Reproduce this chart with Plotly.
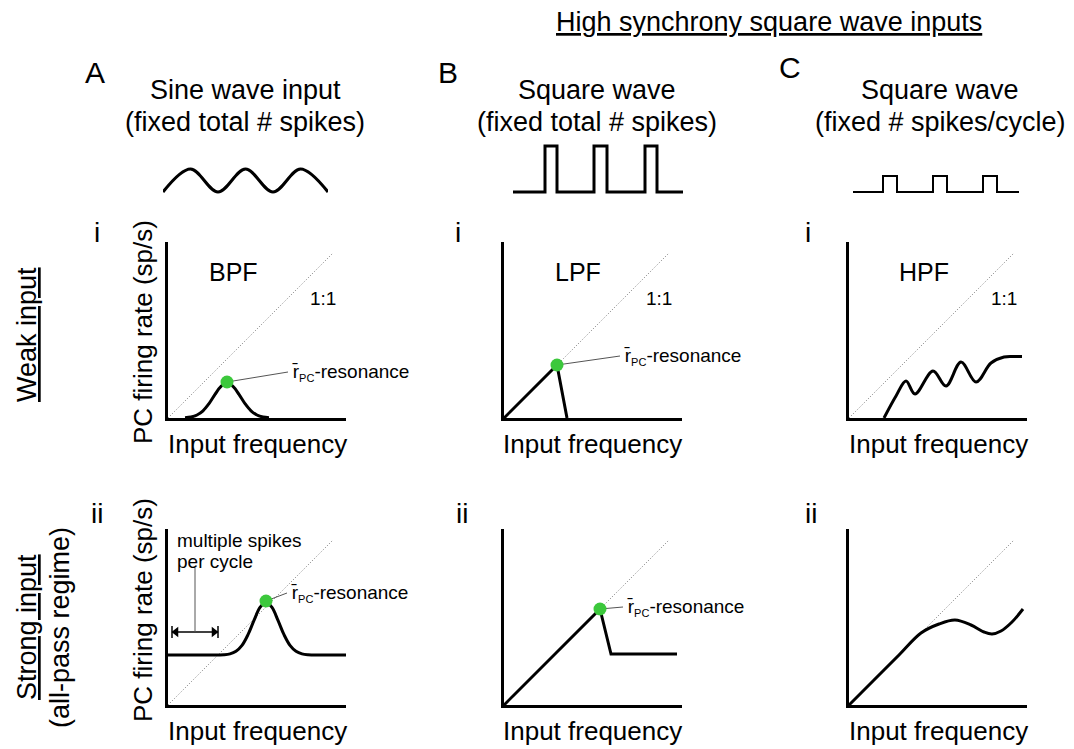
import plotly.graph_objects as go

FIG_W, FIG_H = 1074, 749
FONT = "Arial, Liberation Sans, sans-serif"
GREEN = "#3cc83c"

# ---- schematic curves (units ~ px from each panel origin) ----
diag_x = [0, 165]
diag_y = [0, 165]

# A-i: band pass bump
bpf_x = [17, 23, 29, 35, 41, 47, 53, 59, 65, 71, 77, 83, 89, 95, 101]
bpf_y = [0.3, 1.0, 3.0, 7.2, 14.4, 23.6, 31.7, 35, 31.7, 23.6, 14.4, 7.2, 3.0, 1.0, 0.3]
bpf_res = (59, 36)

# B-i: low pass
lpf_x = [0, 53, 63]
lpf_y = [0, 53, 0]
lpf_res = (53, 53)

# C-i: high pass with wiggles
hpf_x = [35, 47, 57, 66, 84, 97, 112, 127, 142, 155, 165, 173]
hpf_y = [0, 22, 37, 24, 47, 32, 56, 36, 55, 61, 61.5, 61.5]

# A-ii: strong sine input
ap_sine_x = [0, 56, 62, 68, 74, 80, 86, 92, 98, 104, 110, 116, 122, 128, 134, 140, 179]
ap_sine_y = [50, 50.3, 51.1, 53.7, 59.6, 70.3, 84.6, 97.6, 103, 97.6, 84.6, 70.3, 59.6, 53.7, 51.1, 50.3, 50]
ap_sine_res = (98, 104)
multi_span_x = [4, 50]
multi_span_y = 73
multi_lead_x = [27, 27]
multi_lead_y = [73, 137]

# B-ii: strong square, fixed total
ap_sq_x = [0, 96, 107, 173]
ap_sq_y = [0, 96, 51, 51]
ap_sq_res = (96, 96)

# C-ii: strong square, fixed per cycle
ap_sqc_x = [0, 25, 50, 72, 90, 106, 122, 135, 143, 152, 163, 174]
ap_sqc_y = [0, 25, 50, 72, 81, 85, 80, 73, 71, 74, 83, 96]

# leader line ends for the resonance labels
lead_ends = {1: (120, 46), 2: (116, 62), 4: (119, 112), 5: (119, 98)}

# input waveform icons
sine_x = [0, 1, 2, 3, 4, 5, 6]
sine_y = [0, 0.5, 0, 0.5, 0, 0.5, 0]
sqb_t = [0, 0.64, 0.64, 0.88, 0.88, 1.62, 1.62, 1.88, 1.88, 2.64, 2.64, 2.88, 2.88, 3.4]
sqb_y = [0, 0, 1, 1, 0, 0, 1, 1, 0, 0, 1, 1, 0, 0]
sqc_t = [0, 0.6, 0.6, 0.88, 0.88, 1.6, 1.6, 1.88, 1.88, 2.6, 2.6, 2.88, 2.88, 3.32]
sqc_y = [0, 0, 0.35, 0.35, 0, 0, 0.35, 0.35, 0, 0, 0.35, 0.35, 0, 0]


def px(x):
    return x / FIG_W


def py(y):
    return 1 - y / FIG_H


PW, PH = 178, 176
col_x0 = [168, 504, 849]
row_y0 = [418, 705]

fig = go.Figure()
layout_axes = {}

# six panels: 1..3 top row, 4..6 bottom row
n = 0
for r, y0 in enumerate(row_y0):
    for c, x0 in enumerate(col_x0):
        n += 1
        s = "" if n == 1 else str(n)
        layout_axes["xaxis" + s] = dict(
            domain=[px(x0), px(x0 + PW)], range=[0, PW], anchor="y" + s,
            showline=True, linewidth=3, linecolor="black", showgrid=False,
            zeroline=False, showticklabels=False, ticks="", fixedrange=True,
        )
        layout_axes["yaxis" + s] = dict(
            domain=[py(y0), py(y0 - PH)], range=[0, PH], anchor="x" + s,
            showline=True, linewidth=3, linecolor="black", showgrid=False,
            zeroline=False, showticklabels=False, ticks="", fixedrange=True,
        )

# icon axes 7..9
icon_specs = [(7, 163, 328, [0, 6]), (8, 513, 683, [0, 3.4]), (9, 853, 1019, [0, 3.32])]
for k, a, b, rng in icon_specs:
    layout_axes["xaxis%d" % k] = dict(domain=[px(a), px(b)], range=rng,
                                      anchor="y%d" % k, visible=False)
    layout_axes["yaxis%d" % k] = dict(domain=[py(201.2), py(136.8)], range=[-0.2, 1.2],
                                      anchor="x%d" % k, visible=False)


def ax(n):
    return ("x", "y") if n == 1 else ("x%d" % n, "y%d" % n)


def add_line(n, x, y, color="black", width=3, dash=None, shape="linear"):
    xa, ya = ax(n)
    fig.add_trace(go.Scatter(
        x=x, y=y, mode="lines", xaxis=xa, yaxis=ya, showlegend=False,
        hoverinfo="skip", line=dict(color=color, width=width, dash=dash, shape=shape),
    ))


# dotted 1:1 lines
for n in range(1, 7):
    add_line(n, diag_x, diag_y, color="#777777", width=1, dash="1px,2px")

add_line(1, bpf_x, bpf_y, shape="spline")
add_line(2, lpf_x, lpf_y)
add_line(3, hpf_x, hpf_y, shape="spline")
add_line(4, ap_sine_x, ap_sine_y, shape="spline")
add_line(5, ap_sq_x, ap_sq_y)
add_line(6, ap_sqc_x, ap_sqc_y, shape="spline")

# multiple-spikes span
add_line(4, multi_span_x, [multi_span_y] * 2, width=1.5)
for xv in multi_span_x:
    add_line(4, [xv, xv], [multi_span_y - 6, multi_span_y + 6], width=1.5)
add_line(4, multi_lead_x, multi_lead_y, color="#555555", width=1)
xa4, ya4 = ax(4)
fig.add_trace(go.Scatter(
    x=[multi_span_x[0] + 4, multi_span_x[1] - 4], y=[multi_span_y] * 2,
    mode="markers", xaxis=xa4, yaxis=ya4, showlegend=False, hoverinfo="skip",
    marker=dict(symbol=["triangle-left", "triangle-right"], size=9, color="black"),
))

# resonance markers + leader lines
res_points = {1: bpf_res, 2: lpf_res, 4: ap_sine_res, 5: ap_sq_res}
for n, (rx, ry) in res_points.items():
    ex, ey = lead_ends[n]
    add_line(n, [rx, ex], [ry, ey], color="#555555", width=1)
for n, (rx, ry) in res_points.items():
    xa, ya = ax(n)
    fig.add_trace(go.Scatter(
        x=[rx], y=[ry], mode="markers", xaxis=xa, yaxis=ya, showlegend=False,
        hoverinfo="skip", cliponaxis=False,
        marker=dict(size=13, color=GREEN, line=dict(width=0)),
    ))

# input icons
add_line(7, sine_x, sine_y, width=3, shape="spline")
add_line(8, sqb_t, sqb_y, width=3)
add_line(9, sqc_t, sqc_y, width=2)

annotations = []


def note(text, x, y, size, xref="paper", yref="paper", angle=0, xanchor="center", color="black"):
    if xref == "paper":
        x, y = px(x), py(y)
    annotations.append(dict(
        text=text, x=x, y=y, xref=xref, yref=yref, showarrow=False,
        textangle=angle, xanchor=xanchor, yanchor="middle",
        font=dict(family=FONT, size=size, color=color),
    ))


note("<u>High synchrony square wave inputs</u>", 769, 22, 27)
for lab, x, y in [("A", 95, 72), ("B", 448, 72), ("C", 790, 68)]:
    note(lab, x, y, 30)
titles = [("Sine wave input", "(fixed total # spikes)", 245),
          ("Square wave", "(fixed total # spikes)", 597),
          ("Square wave", "(fixed # spikes/cycle)", 940)]
for t1, t2, x in titles:
    note(t1, x, 90, 27)
    note(t2, x, 122, 27)

for x in [97, 458, 808]:
    note("i", x, 233, 28)
for x in [97, 462, 811]:
    note("ii", x, 513, 28)

note("<u>Weak input</u>", 27, 335, 27, angle=-90)
note("<u>Strong input</u>", 27, 627, 27, angle=-90)
note("(all-pass regime)", 60, 627, 27, angle=-90)
note("PC firing rate (sp/s)", 143, 332, 26, angle=-90)
note("PC firing rate (sp/s)", 143, 610, 26, angle=-90)
for x0 in col_x0:
    note("Input frequency", x0 + PW / 2, 444, 26)
    note("Input frequency", x0 + PW / 2, 731, 26)

# in-panel labels
for n, lab, lx in [(1, "BPF", 65), (2, "LPF", 74), (3, "HPF", 75)]:
    xa, ya = ax(n)
    note(lab, lx, 146, 25, xref=xa, yref=ya)
    note("1:1", 155, 120, 19, xref=xa, yref=ya)

res_label = "r\u0304<sub><span style='font-size:11px'>PC</span></sub>-resonance"
for n, (ex, ey) in lead_ends.items():
    xa, ya = ax(n)
    note(res_label, ex + 2, ey, 19, xref=xa, yref=ya, xanchor="left")

xa4, ya4 = ax(4)
note("multiple spikes", 7, 165, 19, xref=xa4, yref=ya4, xanchor="left")
note("per cycle", 7, 144, 19, xref=xa4, yref=ya4, xanchor="left")

fig.update_layout(
    width=FIG_W, height=FIG_H,
    margin=dict(l=0, r=0, t=0, b=0),
    paper_bgcolor="white", plot_bgcolor="white",
    font=dict(family=FONT, color="black"),
    showlegend=False,
    annotations=annotations,
    **layout_axes,
)

# the page body has a default 8px margin; drop it so the figure sits at 0,0
fig.write_html(
    "out.html",
    config={"displayModeBar": False, "staticPlot": True},
    post_script="document.body.style.margin='0px';",
)
